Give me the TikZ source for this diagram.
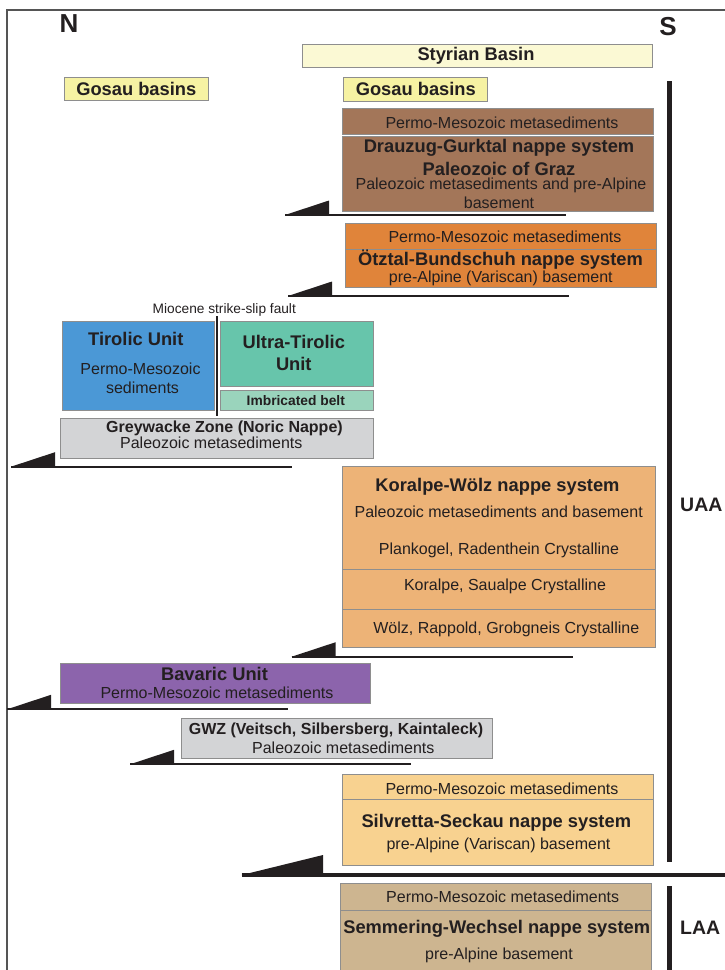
\documentclass[tikz,border=0pt]{standalone}
\usepackage{fontspec}
\setmainfont{Liberation Sans}
\definecolor{ink}{HTML}{231F20}
\definecolor{boxline}{HTML}{8E8E8E}
\definecolor{framecol}{HTML}{555555}
\definecolor{styrian}{HTML}{FBF9D4}
\definecolor{gosau}{HTML}{F6F2A3}
\definecolor{drauzug}{HTML}{A37659}
\definecolor{oetztal}{HTML}{E0843A}
\definecolor{tirolic}{HTML}{4B98D6}
\definecolor{ultra}{HTML}{67C5AB}
\definecolor{imbric}{HTML}{9AD4BC}
\definecolor{greyzone}{HTML}{D3D4D6}
\definecolor{koralpe}{HTML}{EDB377}
\definecolor{bavaric}{HTML}{8C64AC}
\definecolor{silvretta}{HTML}{F8D290}
\definecolor{semmering}{HTML}{CDB590}
\tikzset{
unitbox/.style={draw=boxline, line width=0.8, inner sep=0pt, outer sep=0pt, anchor=north west},
ttl/.style={font=\bfseries\fontsize{18.3}{20}\selectfont, text=ink, inner sep=0pt},
ttlsm/.style={font=\bfseries\fontsize{16}{18}\selectfont, text=ink, inner sep=0pt},
txt/.style={font=\fontsize{16}{18}\selectfont, text=ink, inner sep=0pt},
note/.style={font=\fontsize{13.7}{15}\selectfont, text=ink, inner sep=0pt},
compass/.style={font=\bfseries\fontsize{26}{28}\selectfont, text=ink, inner sep=0pt},
sidetag/.style={font=\bfseries\fontsize{19.5}{21}\selectfont, text=ink, inner sep=0pt, anchor=west},
thrust/.pic={
  \fill[ink] (0,0) -- (44,-14.5) -- (44,0) -- cycle;
  \draw[ink, line width=2] (0,0) -- (281,0);
  }
}
\begin{document}
\begin{tikzpicture}[x=1pt, y=-1pt]
\useasboundingbox (0,0) rectangle (725,970);
\clip (0,0) rectangle (725,970);
\draw[framecol, line width=1.5] (7,980) -- (7,10) -- (740,10);
\node[compass] (north) at (69,24) {N};
\node[compass] (south) at (668,27) {S};
\node[unitbox, fill=styrian, minimum width=350, minimum height=23] (styrian) at (302,44) {};
\node[ttl] (styriantxt) at (476,56) {Styrian Basin};
\node[unitbox, fill=gosau, minimum width=144, minimum height=23.5] (gosauN) at (64,77) {};
\node[ttl] (gosauNtxt) at (136.3,89.3) {Gosau basins};
\node[unitbox, fill=gosau, minimum width=144, minimum height=23.5] (gosauS) at (343,77.5) {};
\node[ttl] (gosauStxt) at (415.8,89.3) {Gosau basins};
\node[unitbox, fill=drauzug, minimum width=311, minimum height=26] (drauzugPM) at (342,108) {};
\node[txt] (drauzugPMtxt) at (502,123) {Permo-Mesozoic metasediments};
\node[unitbox, fill=drauzug, minimum width=311, minimum height=75] (drauzug) at (342,136) {};
\node[ttl] (drauzugA) at (499,148) {Drauzug-Gurktal nappe system};
\node[ttl] (drauzugB) at (499,168.5) {Paleozoic of Graz};
\node[txt] (drauzugC) at (501,185.5) {Paleozoic metasediments and pre-Alpine};
\node[txt] (drauzugD) at (499,203) {basement};
\pic at (285,215) {thrust};
\node[unitbox, fill=oetztal, minimum width=311, minimum height=64] (oetztal) at (345,223) {};
\draw[boxline, line width=0.8] (345,249) -- (656,249);
\node[txt] (oetztalPM) at (505,236.5) {Permo-Mesozoic metasediments};
\node[ttl] (oetztalA) at (500.5,260) {Ötztal-Bundschuh nappe system};
\node[txt] (oetztalB) at (500.8,278) {pre-Alpine (Variscan) basement};
\pic at (288,296) {thrust};
\node[note] (fault) at (224.3,309.5) {Miocene strike-slip fault};
\node[unitbox, fill=tirolic, minimum width=151.3, minimum height=89.7] (tirolic) at (62.7,321) {};
\node[ttl] (tirolicA) at (135.8,339.3) {Tirolic Unit};
\node[txt] (tirolicB) at (140.5,369) {Permo-Mesozoic};
\node[txt] (tirolicC) at (142.5,388) {sediments};
\node[unitbox, fill=ultra, minimum width=152.3, minimum height=65.7] (ultra) at (220.7,321) {};
\node[ttl] (ultraA) at (293.8,341.7) {Ultra-Tirolic};
\node[ttl] (ultraB) at (293.8,364.3) {Unit};
\node[unitbox, fill=imbric, minimum width=152.3, minimum height=20] (imbric) at (220.7,390.7) {};
\node[note, font=\bfseries\fontsize{13.8}{15}\selectfont] (imbrictxt) at (295.8,401) {Imbricated belt};
\draw[ink, line width=2] (217,316) -- (217,416);
\node[unitbox, fill=greyzone, minimum width=313, minimum height=40] (greywacke) at (60,418) {};
\node[ttlsm] (greywackeA) at (224.5,428.5) {Greywacke Zone (Noric Nappe)};
\node[txt] (greywackeB) at (211.3,443) {Paleozoic metasediments};
\pic at (11,466.7) {thrust};
\node[unitbox, fill=koralpe, minimum width=313.4, minimum height=181.7] (koralpe) at (342.3,466) {};
\draw[boxline, line width=0.8] (342.3,569.3) -- (655.7,569.3);
\draw[boxline, line width=0.8] (342.3,609.3) -- (655.7,609.3);
\node[ttl] (koralpeA) at (497.5,486.7) {Koralpe-Wölz nappe system};
\node[txt] (koralpeB) at (498.7,511.7) {Paleozoic metasediments and basement};
\node[txt] (koralpeC) at (499,550.7) {Plankogel, Radenthein Crystalline};
\node[txt] (koralpeD) at (505,586.7) {Koralpe, Saualpe Crystalline};
\node[txt] (koralpeE) at (506.3,629) {Wölz, Rappold, Grobgneis Crystalline};
\pic at (291.7,656.7) {thrust};
\node[unitbox, fill=bavaric, minimum width=310.7, minimum height=40] (bavaric) at (60,663.3) {};
\node[ttl] (bavaricA) at (214.5,674.3) {Bavaric Unit};
\node[txt] (bavaricB) at (217,692.3) {Permo-Mesozoic metasediments};
\pic at (7,709.3) {thrust};
\node[unitbox, fill=greyzone, minimum width=311, minimum height=40] (gwz) at (181.7,718.3) {};
\node[ttlsm] (gwzA) at (336,730) {GWZ (Veitsch, Silbersberg, Kaintaleck)};
\node[txt] (gwzB) at (343.3,747.7) {Paleozoic metasediments};
\pic at (130,764.3) {thrust};
\node[unitbox, fill=silvretta, minimum width=311, minimum height=91] (silvretta) at (342.3,774) {};
\draw[boxline, line width=0.8] (342.3,799.3) -- (653.3,799.3);
\node[txt] (silvrettaPM) at (502,789) {Permo-Mesozoic metasediments};
\node[ttl] (silvrettaA) at (496.3,823) {Silvretta-Seckau nappe system};
\node[txt] (silvrettaB) at (498.5,845) {pre-Alpine (Variscan) basement};
\fill[ink] (241.7,875) -- (323,855) -- (323,875) -- cycle;
\draw[ink, line width=3.5] (241.7,875) -- (740,875);
\node[unitbox, fill=semmering, minimum width=311, minimum height=100] (semmering) at (340.7,883.3) {};
\draw[boxline, line width=0.8] (340.7,910.7) -- (651.7,910.7);
\node[txt] (semmeringPM) at (502.7,897) {Permo-Mesozoic metasediments};
\node[ttl] (semmeringA) at (496.7,929) {Semmering-Wechsel nappe system};
\node[txt] (semmeringB) at (499,955) {pre-Alpine basement};
\draw[ink, line width=5.5] (669.5,81) -- (669.5,862);
\draw[ink, line width=5.5] (669.5,886) -- (669.5,980);
\node[sidetag] (uaa) at (680,505) {UAA};
\node[sidetag] (laa) at (680,928) {LAA};
\end{tikzpicture}
\end{document}
